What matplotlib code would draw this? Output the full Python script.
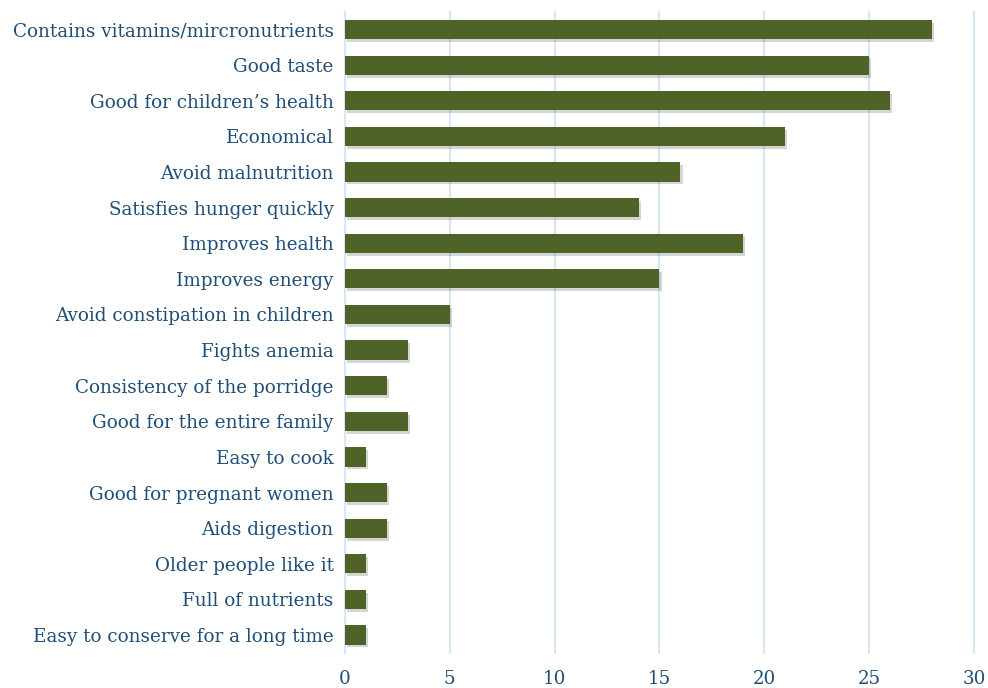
import matplotlib.pyplot as plt
import matplotlib.patheffects as pe

categories = [
    "Contains vitamins/mircronutrients",
    "Good taste",
    "Good for children\u2019s health",
    "Economical",
    "Avoid malnutrition",
    "Satisfies hunger quickly",
    "Improves health",
    "Improves energy",
    "Avoid constipation in children",
    "Fights anemia",
    "Consistency of the porridge",
    "Good for the entire family",
    "Easy to cook",
    "Good for pregnant women",
    "Aids digestion",
    "Older people like it",
    "Full of nutrients",
    "Easy to conserve for a long time",
]
values = [28, 25, 26, 21, 16, 14, 19, 15, 5, 3, 2, 3, 1, 2, 2, 1, 1, 1]

text_color = "#1F4E79"
bar_color = "#4F6228"

plt.rcParams['font.family'] = ['DejaVu Serif']

fig = plt.figure(figsize=(9.88, 6.88), dpi=100)
ax = fig.add_axes([0.349, 0.051, 0.637, 0.932])

ypos = list(range(len(categories)))
bars = ax.barh(ypos, values, height=0.54, color=bar_color, zorder=3)
for b in bars:
    b.set_path_effects([pe.SimplePatchShadow(offset=(1.5, -2), alpha=0.22, shadow_rgbFace="#444444"),
                        pe.Normal()])

ax.set_ylim(len(categories) - 0.5, -0.5)
ax.set_xlim(0, 30)
ax.set_xticks(range(0, 31, 5))
ax.set_yticks(ypos)
ax.set_yticklabels(categories)
ax.grid(axis='x', color="#D9E6F4", linewidth=1.6, zorder=0)
for gl in ax.get_xgridlines():
    gl.set_clip_on(False)
for s in ax.spines.values():
    s.set_visible(False)
ax.tick_params(axis='both', length=0, labelsize=13.2, colors=text_color)
ax.tick_params(axis='y', pad=8)
ax.tick_params(axis='x', pad=12)

fig.savefig("out.png", dpi=100)
